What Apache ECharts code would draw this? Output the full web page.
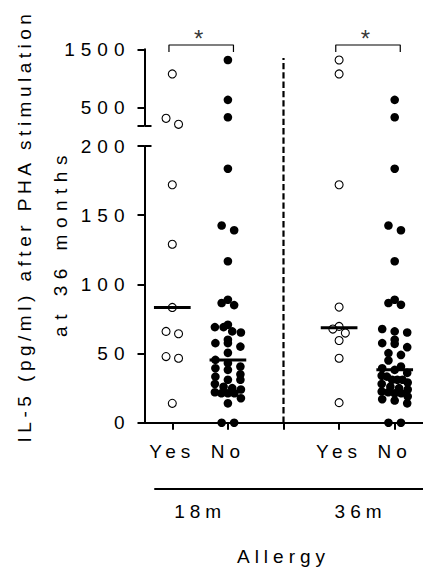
<!DOCTYPE html>
<html><head><meta charset="utf-8">
<script src="https://cdn.jsdelivr.net/npm/echarts@6/dist/echarts.min.js"></script>
<style>
html,body{margin:0;padding:0;background:#fff;}
#c{width:423px;height:574px;}
#c text{letter-spacing:5px;}
</style></head><body><div id="c"></div>
<script>
// ---------- data ----------
const groupLabels = ['Yes', 'No', '', 'Yes', 'No'];
const periodLabels = ['18m', '36m'];
const allergy18 = [1078, 320, 217, 172, 129, 83.3, 66, 64.3, 47.8, 46.6, 14];
const noAllergy18 = [1317, 635, 337, 183.6, 142.5, 139.1, 116.7, 88.9, 86.5, 85, 70.8, 69.1, 69.1, 66, 65.2, 60, 57.5, 57.5, 55, 50.5, 45.4, 43, 40.6, 39.4, 38.2, 35, 33.3, 31, 31, 28, 26, 25, 24, 22, 21.3, 21.3, 21.3, 17.7, 14, 0, 0];
const allergy36 = [1317, 1078, 172, 83.6, 69.6, 67.7, 64.8, 59.4, 46.6, 14.5];
const noAllergy36 = [635, 337, 183.6, 142.5, 139.1, 116.7, 88.9, 86.5, 85.3, 67.7, 66, 65.2, 60, 57.5, 57, 54.6, 50.3, 49, 45, 40.6, 39.4, 38.2, 36, 34, 33.3, 31, 31, 31, 29, 28, 26, 25, 24, 22.5, 22, 21.3, 21.3, 19, 17, 16, 14, 0, 0];
const upperTicks = [500, 1500];
const lowerTicks = [0, 50, 100, 150, 200];
const significance = ['*', '*'];
const yTitleLines = ['IL-5 (pg/ml) after PHA stimulation', 'at 36 months'];
const xTitle = 'Allergy';

// ---------- layout ----------
const FONT = 'Liberation Sans, Arial, sans-serif';
const FS = 19;
const GL = 144.5, GW = 278;
const UP_TOP = 49.3, UP_H = 76, LOW_TOP = 146, LOW_H = 276.7;
const BREAK = 200, UP_MAX = 1500;
const X_MIN = 0.5, X_MAX = 5.5;
const X_PX = GW / (X_MAX - X_MIN);
const LOW_PX = LOW_H / BREAK;
const UP_PX = UP_H / (UP_MAX - BREAK);
const BIN = 8;

const groups = [
  {values: allergy18, pos: 1, open: true},
  {values: noAllergy18, pos: 2, open: false},
  {values: allergy36, pos: 4, open: true},
  {values: noAllergy36, pos: 5, open: false}
];

function swarm(values, center) {
  const pts = values.map(v => ({v, upper: v > BREAK, px: v > BREAK ? (v - BREAK) * UP_PX : v * LOW_PX}));
  const bins = {};
  pts.forEach(p => { const k = (p.upper ? 'u' : 'l') + Math.floor(p.px / BIN); (bins[k] = bins[k] || []).push(p); });
  Object.values(bins).forEach(arr => {
    const n = arr.length;
    const s = n > 1 ? Math.min(12.5, 26 / (n - 1)) : 0;
    arr.forEach((p, i) => { p.x = center + (i - (n - 1) / 2) * s / X_PX; });
  });
  return pts;
}
function median(a) {
  const s = a.slice().sort((x, y) => x - y), n = s.length;
  return n % 2 ? s[(n - 1) / 2] : (s[n / 2 - 1] + s[n / 2]) / 2;
}

const series = [];
groups.forEach(g => {
  const pts = swarm(g.values, g.pos);
  const style = g.open ? {color: '#fff', borderColor: '#000', borderWidth: 1.1, opacity: 1} : {color: '#000', opacity: 1};
  const size = g.open ? 8 : 8.6;
  series.push({type: 'scatter', xAxisIndex: 1, yAxisIndex: 2, symbolSize: size, itemStyle: style, z: 3,
    data: pts.filter(p => !p.upper).map(p => [p.x, p.v])});
  series.push({type: 'scatter', xAxisIndex: 0, yAxisIndex: 0, symbolSize: size, itemStyle: style, z: 3,
    data: pts.filter(p => p.upper).map(p => [p.x, p.v])});
  const m = median(g.values);
  series.push({type: 'line', xAxisIndex: 1, yAxisIndex: 2, symbol: 'none', z: 5,
    lineStyle: {color: '#000', width: 3}, data: [[g.pos - 0.33, m], [g.pos + 0.33, m]]});
});

// significance brackets
const upPerPx = 1 / UP_PX;
const brTop = UP_MAX + 4.3 * upPerPx, brLeg = UP_MAX - 2.7 * upPerPx;
[[1, 2], [4, 5]].forEach((pr, i) => {
  const a = pr[0] - 0.06, b = pr[1] + 0.1;
  series.push({type: 'line', xAxisIndex: 0, yAxisIndex: 0, symbol: 'none', clip: false, z: 4,
    lineStyle: {color: '#000', width: 1.2}, data: [[a, brLeg], [a, brTop], [b, brTop], [b, brLeg]]});
  series.push({type: 'scatter', xAxisIndex: 0, yAxisIndex: 0, symbolSize: 0, clip: false,
    data: [[(a + b) / 2, brTop]],
    label: {show: true, position: 'top', distance: -5, formatter: significance[i],
      fontSize: 24, fontFamily: FONT, color: '#000'}});
});

// dashed divider between periods
series.push({type: 'line', xAxisIndex: 1, yAxisIndex: 2, symbol: 'none', clip: false, z: 2,
  lineStyle: {color: '#000', width: 2.2, type: [6.3, 3]},
  data: [[3, 0], [3, (LOW_TOP + LOW_H - 58) / LOW_PX]]});

const axisLine = {show: true, lineStyle: {color: '#000', width: 2}};
const tick = (vals, inside) => ({show: true, inside: !!inside, length: 7, customValues: vals, lineStyle: {color: '#000', width: 2}});
const lbl = {color: '#000', fontSize: FS, fontFamily: FONT};
const plain = v => String(v);

const option = {
  animation: false,
  backgroundColor: '#fff',
  grid: [
    {left: GL, top: UP_TOP, width: GW, height: UP_H},
    {left: GL, top: LOW_TOP, width: GW, height: LOW_H},
    {left: 155, top: 480, width: 268, height: 9}
  ],
  xAxis: [
    {gridIndex: 0, type: 'value', min: X_MIN, max: X_MAX, show: false},
    {gridIndex: 1, type: 'value', min: X_MIN, max: X_MAX, axisLine, splitLine: {show: false},
      axisTick: tick([1, 2, 3, 4, 5]),
      axisLabel: Object.assign({customValues: [1, 2, 4, 5], margin: 19, formatter: v => groupLabels[Math.round(v) - 1]}, lbl),
      name: xTitle, nameLocation: 'middle', nameGap: 124, nameTextStyle: lbl},
    {gridIndex: 2, type: 'value', min: 0.69, max: 5.5, axisLine, splitLine: {show: false},
      axisTick: {show: false},
      axisLabel: Object.assign({customValues: [1.5, 4.38], margin: 13, formatter: v => periodLabels[v < 3 ? 0 : 1]}, lbl)}
  ],
  yAxis: [
    {gridIndex: 0, type: 'value', position: 'left', min: BREAK, max: UP_MAX, axisLine, splitLine: {show: false},
      axisTick: tick([BREAK].concat(upperTicks)),
      axisLabel: Object.assign({customValues: upperTicks, margin: 14, formatter: plain}, lbl)},
    {gridIndex: 0, type: 'value', position: 'left', offset: 0, min: BREAK, max: UP_MAX, axisLine: {show: false}, splitLine: {show: false},
      axisTick: tick([BREAK], true), axisLabel: {show: false}},
    {gridIndex: 1, type: 'value', position: 'left', min: 0, max: BREAK, interval: 50, axisLine, splitLine: {show: false},
      axisTick: tick(lowerTicks),
      axisLabel: Object.assign({customValues: lowerTicks, margin: 14, formatter: plain}, lbl)},
    {gridIndex: 1, type: 'value', position: 'left', offset: 0, min: 0, max: BREAK, axisLine: {show: false}, splitLine: {show: false},
      axisTick: tick([BREAK], true), axisLabel: {show: false}},
    {gridIndex: 2, type: 'value', show: false}
  ],
  graphic: [
    {type: 'text', x: 24, y: 226, rotation: Math.PI / 2,
      style: {text: yTitleLines[0], fill: '#000', font: FS + 'px ' + FONT, align: 'center', verticalAlign: 'middle'}},
    {type: 'text', x: 60, y: 243, rotation: Math.PI / 2,
      style: {text: yTitleLines[1], fill: '#000', font: FS + 'px ' + FONT, align: 'center', verticalAlign: 'middle'}}
  ],
  series
};
const chart = echarts.init(document.getElementById('c'), null, {renderer: 'svg'});
chart.setOption(option);
document.querySelectorAll('#c text').forEach(t => {
  const s = t.textContent.trim();
  if (/^\d+$/.test(s)) t.style.letterSpacing = '6px';
  else if (s === yTitleLines[0]) t.style.letterSpacing = '4.5px';
  else if (s === yTitleLines[1]) t.style.letterSpacing = '6.5px';
});
</script></body></html>
